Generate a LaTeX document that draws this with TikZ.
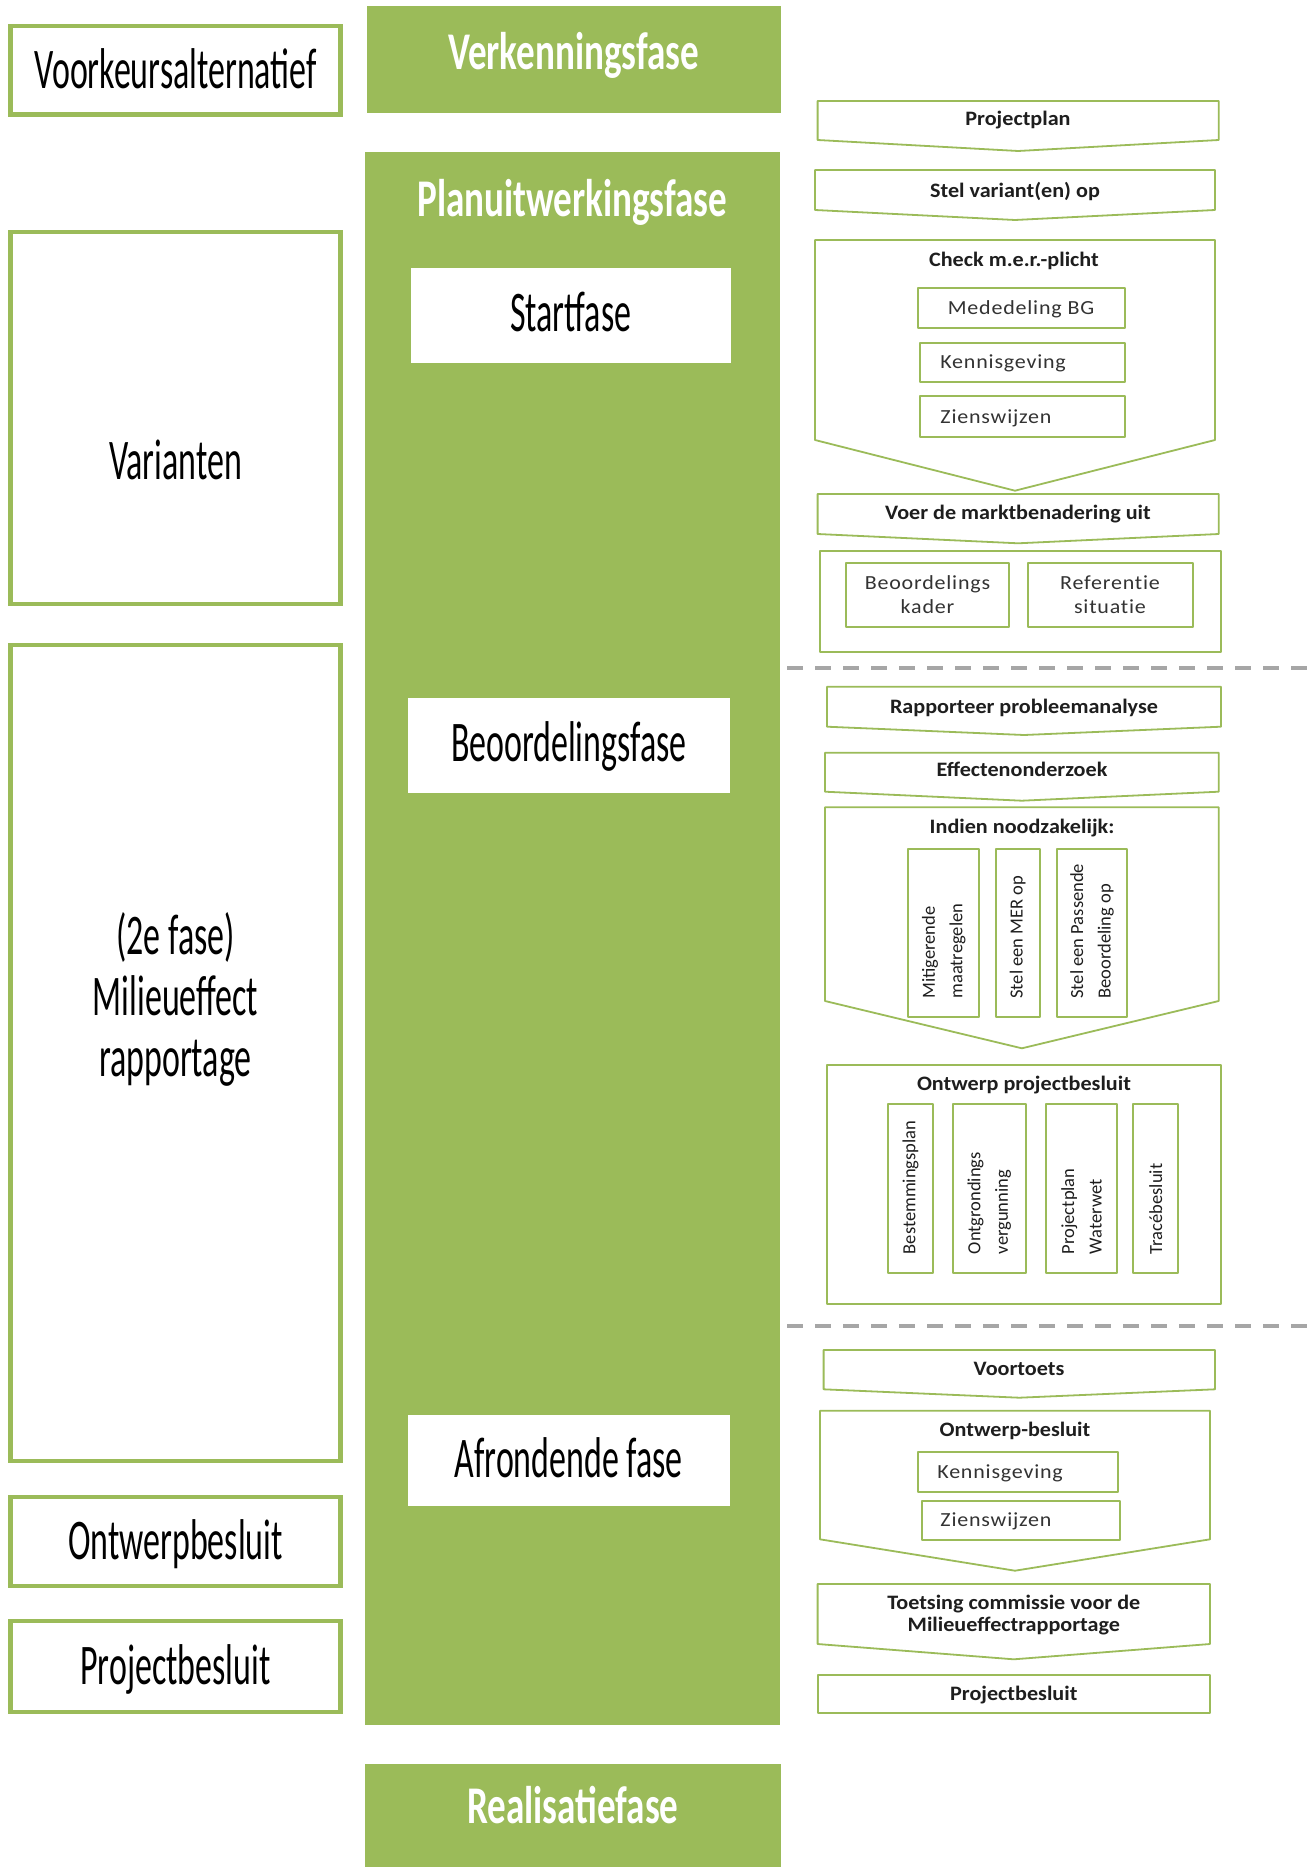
\documentclass[tikz,border=0pt]{standalone}
\usepackage{fontspec}
\setmainfont{Carlito}
\newfontfamily\leftfont[FakeStretch=0.59]{Carlito}
\newfontfamily\phasefont[FakeStretch=0.7]{Carlito}
\newfontfamily\stepfont[FakeStretch=1.08]{Carlito}
\newfontfamily\itemfont[FakeStretch=1.1,LetterSpace=4,Ligatures=NoCommon]{Carlito}
\newfontfamily\vertfont{Carlito}
\definecolor{fasegreen}{HTML}{9BBB59}
\definecolor{dashgray}{HTML}{A6A6A6}
\definecolor{inkdark}{HTML}{1E1E1E}
\definecolor{inkgray}{HTML}{333333}

% chevron step: x-left, x-right, y-top, y-side, y-tip
\newcommand\chevronstep[5]{%
  \draw[stepline] (#1,#3) -- (#2,#3) -- (#2,#4) -- ({(#1+#2)/2},#5) -- (#1,#4) -- cycle;}

\begin{document}
\begin{tikzpicture}[x=0.5pt,y=-0.5pt,
  sidebox/.style={draw=fasegreen, line width=2.25pt, fill=white},
  sidetext/.style={font=\leftfont\fontsize{28.75}{30.5}\selectfont, text=black,
    align=center, text height=18.5pt, text depth=0pt, inner sep=0pt},
  phasetext/.style={font=\phasefont\bfseries\fontsize{26.5}{30}\selectfont, text=white,
    text height=17pt, text depth=0pt, inner sep=0pt},
  stepline/.style={draw=fasegreen, line width=0.9pt, fill=white, line join=round},
  steptext/.style={font=\stepfont\bfseries\fontsize{10.25}{11.25}\selectfont, text=inkdark,
    align=center, text height=6.6pt, text depth=0pt, inner sep=0pt},
  itemtext/.style={font=\itemfont\fontsize{10}{12}\selectfont, text=inkgray,
    align=center, text height=6.5pt, text depth=0pt, inner sep=0pt},
  verttext/.style={font=\vertfont\fontsize{9.25}{13.75}\selectfont, text=inkdark,
    rotate=90, anchor=west, align=left, inner sep=0pt},
  divider/.style={draw=dashgray, line width=2pt, dash pattern=on 8pt off 6pt}
]
\useasboundingbox (0,0) rectangle (1308,1867);

% ---- left column: products ----
% (multi-line labels are positioned by their last line)
\draw[sidebox] (10.5,26) rectangle (340.5,114.5);
\node[sidetext] (vka) at (175.5,70) {Voorkeursalternatief};
\draw[sidebox] (10.5,232) rectangle (340.5,604);
\node[sidetext] (var) at (175.5,460.6) {Varianten};
\draw[sidebox] (10.5,645) rectangle (340.5,1461);
\node[sidetext] (mer) at (175.5,1058) {(2e fase)\\Milieueffect\\rapportage};
\draw[sidebox] (10.5,1497) rectangle (340.5,1586);
\node[sidetext] (owb) at (175.5,1541) {Ontwerpbesluit};
\draw[sidebox] (10.5,1621) rectangle (340.5,1712);
\node[sidetext] (pbl) at (175.5,1666) {Projectbesluit};

% ---- middle column: phases ----
\fill[fasegreen] (366.6,6) rectangle (780.8,113);
\node[phasetext] (verk) at (573.7,53) {Verkenningsfase};
\fill[fasegreen] (365,152) rectangle (779.6,1724.6);
\node[phasetext] (plan) at (572.3,200) {Planuitwerkingsfase};
\fill[fasegreen] (365,1764) rectangle (780.8,1867);
\node[phasetext] (real) at (572.9,1806.5) {Realisatiefase};

\fill[white] (410.6,267.8) rectangle (730.8,363);
\node[sidetext] (start) at (570.7,313) {Startfase};
\fill[white] (408,697.5) rectangle (729.6,792.7);
\node[sidetext] (beoord) at (568.8,743) {Beoordelingsfase};
\fill[white] (408,1415) rectangle (729.6,1505.6);
\node[sidetext] (afrond) at (568.8,1459) {Afrondende fase};

% ---- right column: steps ----
\chevronstep{817.6}{1218.7}{101}{140}{151}
\node[steptext] (s1) at (1018,119) {Projectplan};

\chevronstep{815}{1215}{170}{210}{220}
\node[steptext] (s2) at (1015,191) {Stel variant(en) op};

\chevronstep{815}{1215}{240}{440}{490.7}
\node[steptext] (s3) at (1014,260) {Check m.e.r.-plicht};
\draw[stepline] (917.6,288) rectangle (1124.7,328.3);
\node[itemtext] (s3a) at (1021,308) {Mededeling BG};
\draw[stepline] (920,342.7) rectangle (1124.7,382);
\node[itemtext, anchor=west] (s3b) at (940,362.3) {Kennisgeving};
\draw[stepline] (920,396) rectangle (1124.7,437.3);
\node[itemtext, anchor=west] (s3c) at (940,416.6) {Zienswijzen};

\chevronstep{817.6}{1218.7}{494}{534}{543.3}
\node[steptext] (s4) at (1018,513.3) {Voer de marktbenadering uit};

\draw[stepline] (820,550.7) rectangle (1221,652.3);
\draw[stepline] (846,563.3) rectangle (1009,627.3);
\node[itemtext] (s5a) at (927.5,607) {Beoordelings\\kader};
\draw[stepline] (1028,563.3) rectangle (1192.6,627.3);
\node[itemtext] (s5b) at (1110,607) {Referentie\\situatie};

\coordinate (d1a) at (787,667.7);
\coordinate (d1b) at (1308,667.7);
\draw[divider] (d1a) -- (d1b);

\chevronstep{827}{1221}{686.7}{726.7}{735}
\node[steptext] (s6) at (1024,706.7) {Rapporteer probleemanalyse};

\chevronstep{825}{1218.7}{752.7}{791.7}{800.7}
\node[steptext] (s7) at (1022,770) {Effectenonderzoek};

\chevronstep{825}{1218.7}{807.3}{1001}{1048.3}
\node[steptext] (s8) at (1022,826.7) {Indien noodzakelijk:};
\draw[stepline] (908.3,849.3) rectangle (979.3,1017);
\node[verttext] (s8a) at (943.8,999) {Mitigerende\\maatregelen};
\draw[stepline] (995.7,849.3) rectangle (1040,1017);
\node[verttext] (s8b) at (1017.8,999) {Stel een MER op};
\draw[stepline] (1056.7,849.3) rectangle (1127.3,1017);
\node[verttext] (s8c) at (1092,999) {Stel een Passende\\Beoordeling op};

\draw[stepline] (827,1065) rectangle (1221,1304);
\node[steptext] (s9) at (1024,1084) {Ontwerp projectbesluit};
\draw[stepline] (888.3,1104) rectangle (932.7,1273.3);
\node[verttext] (s9a) at (910.5,1254.5) {Bestemmingsplan};
\draw[stepline] (952.7,1104) rectangle (1026,1273.3);
\node[verttext] (s9b) at (989.3,1254.5) {Ontgrondings\\vergunning};
\draw[stepline] (1046,1104) rectangle (1117.3,1273.3);
\node[verttext] (s9c) at (1081.6,1254.5) {Projectplan\\Waterwet};
\draw[stepline] (1133.3,1104) rectangle (1178.3,1273.3);
\node[verttext] (s9d) at (1155.8,1254.5) {Tracébesluit};

\coordinate (d2a) at (787,1326);
\coordinate (d2b) at (1308,1326);
\draw[divider] (d2a) -- (d2b);

\chevronstep{823.6}{1215}{1350}{1389.3}{1397.7}
\node[steptext] (s10) at (1019,1369.3) {Voortoets};

\chevronstep{820}{1210}{1410.7}{1539.3}{1570.7}
\node[steptext] (s11) at (1015,1430) {Ontwerp-besluit};
\draw[stepline] (917.6,1452) rectangle (1117.6,1491.7);
\node[itemtext, anchor=west] (s11a) at (937,1471.8) {Kennisgeving};
\draw[stepline] (922,1500.7) rectangle (1120,1540);
\node[itemtext, anchor=west] (s11b) at (940,1520.4) {Zienswijzen};

\chevronstep{817.6}{1210}{1584}{1644}{1659.3}
\node[steptext] (s12) at (1013.8,1625) {Toetsing commissie voor de\\Milieueffectrapportage};

\draw[stepline] (817.6,1675) rectangle (1210,1713.3);
\node[steptext] (s13) at (1013.8,1694) {Projectbesluit};
\end{tikzpicture}
\end{document}
